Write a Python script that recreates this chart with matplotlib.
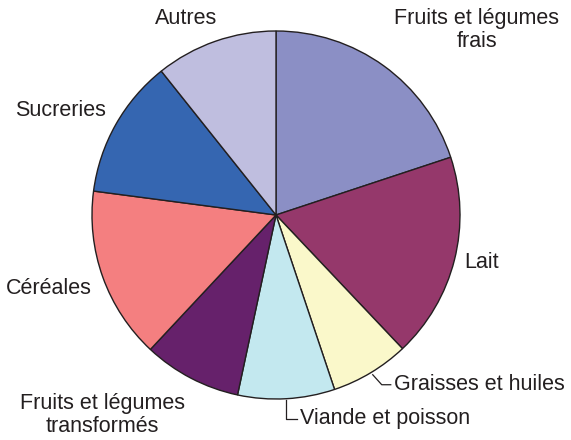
import numpy as np
import matplotlib.pyplot as plt

labels = ["Fruits et légumes\nfrais", "Lait", "Graisses et huiles", "Viande et poisson",
          "Fruits et légumes\ntransformés", "Céréales", "Sucreries", "Autres"]
values = [19.9, 18.0, 6.9, 8.5, 8.6, 15.1, 12.2, 10.7]
colors = ["#8B8FC5", "#95386B", "#FAF8CA", "#C3E8EF", "#66216B", "#F47F80", "#3566B1", "#BFBEDF"]

plt.rcParams['font.family'] = ['Liberation Sans', 'DejaVu Sans']

W, H = 571, 440
fig = plt.figure(figsize=(W / 100, H / 100), dpi=100)
ax = fig.add_axes([0, 0, 1, 1])

cx, cy, r = 276, H - 215, 184
wedges, _ = ax.pie(values, colors=colors, startangle=90, counterclock=False,
                   center=(cx, cy), radius=r, frame=True,
                   wedgeprops=dict(edgecolor="#231F20", linewidth=1.0))
ax.set_xlim(0, W)
ax.set_ylim(0, H)
ax.set_aspect('equal')
ax.axis('off')

fs = 15.5
tc = "#231F20"
# label positions in pixel coords (x, y from top), alignment
pos = {
    0: (477, 30, 'center'),
    1: (464, 263, 'left'),
    5: (49, 288, 'center'),
    6: (60, 110, 'center'),
    7: (186, 18, 'center'),
    4: (102, 415, 'center'),
}
for i, (x, y, ha) in pos.items():
    ax.text(x, H - y, labels[i], ha=ha, va='center', fontsize=fs, color=tc,
            linespacing=1.15)

def edge_point(i):
    w = wedges[i]
    a = np.deg2rad((w.theta1 + w.theta2) / 2)
    return cx + r * np.cos(a), cy + r * np.sin(a)

# Graisses et huiles leader
x0, y0 = edge_point(2)
ax.plot([x0 + 2, x0 + 11, x0 + 20], [y0 - 2, y0 - 12, y0 - 12], color=tc, lw=0.9)
ax.text(x0 + 23, y0 - 12, labels[2], ha='left', va='center', fontsize=fs, color=tc)

# Viande et poisson leader
x1, y1 = edge_point(3)
ax.plot([x1, x1, x1 + 11], [y1 - 1, y1 - 20, y1 - 20], color=tc, lw=0.9)
ax.text(x1 + 14, y1 - 20, labels[3], ha='left', va='center', fontsize=fs, color=tc)

fig.savefig("out.png", dpi=100)
